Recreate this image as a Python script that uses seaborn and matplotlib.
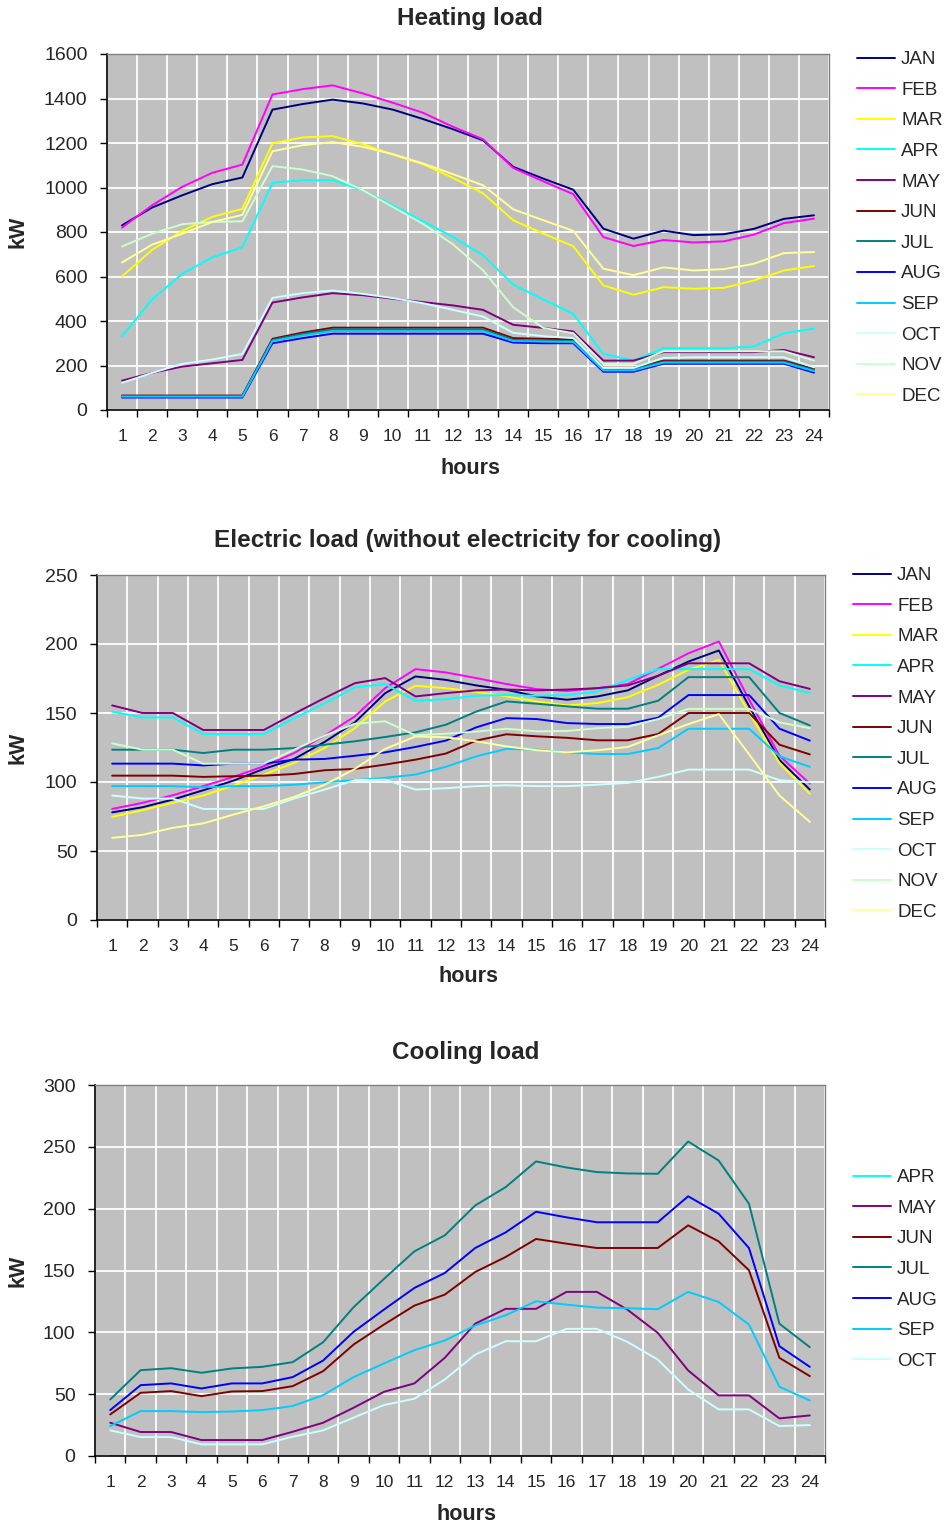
import numpy as np
import pandas as pd
import matplotlib
matplotlib.use("Agg")
import matplotlib.pyplot as plt
import seaborn as sns

hours = list(range(1, 25))
hour_labels = [str(h) for h in hours]
months = ["JAN", "FEB", "MAR", "APR", "MAY", "JUN", "JUL", "AUG", "SEP", "OCT", "NOV", "DEC"]
cooling_months = ["APR", "MAY", "JUN", "JUL", "AUG", "SEP", "OCT"]

month_colors = {
    "JAN": "#000080", "FEB": "#FF00FF", "MAR": "#FFFF00", "APR": "#00FFFF",
    "MAY": "#800080", "JUN": "#800000", "JUL": "#008080", "AUG": "#0000FF",
    "SEP": "#00CCFF", "OCT": "#CCFFFF", "NOV": "#CCFFCC", "DEC": "#FFFF99",
}

# Heating load, kW per hour
heat_jan = [830, 910, 965, 1015, 1045, 1350, 1375, 1395, 1378, 1350, 1308, 1262, 1212, 1093, 1040, 990, 815, 770, 806, 786, 790, 814, 859, 875]
heat_feb = [820, 920, 1003, 1066, 1103, 1418, 1442, 1459, 1423, 1381, 1336, 1273, 1217, 1088, 1028, 970, 777, 737, 764, 753, 758, 788, 840, 860]
heat_mar = [600, 720, 805, 868, 904, 1198, 1225, 1231, 1195, 1148, 1105, 1043, 974, 853, 793, 736, 560, 518, 552, 545, 549, 582, 627, 647]
heat_apr = [332, 497, 612, 686, 732, 1021, 1033, 1033, 988, 920, 848, 778, 695, 564, 497, 432, 252, 222, 278, 278, 278, 285, 345, 366]
heat_may = [132, 167, 195, 210, 225, 483, 506, 525, 516, 500, 485, 470, 450, 383, 369, 353, 222, 222, 260, 260, 260, 260, 270, 237]
heat_jun = [65, 65, 65, 65, 65, 320, 348, 370, 370, 370, 370, 370, 370, 323, 320, 318, 190, 190, 222, 222, 222, 222, 222, 185]
heat_jul = [62, 62, 62, 62, 62, 315, 342, 362, 362, 362, 362, 362, 362, 315, 312, 310, 183, 183, 217, 217, 217, 217, 217, 180]
heat_aug = [56, 56, 56, 56, 56, 300, 323, 343, 343, 343, 343, 343, 343, 303, 300, 300, 172, 172, 208, 208, 208, 208, 208, 168]
heat_sep = [60, 60, 60, 60, 60, 310, 335, 355, 355, 355, 355, 355, 355, 310, 308, 306, 178, 178, 213, 213, 213, 213, 213, 175]
heat_oct = [122, 167, 207, 227, 252, 504, 525, 537, 522, 503, 480, 450, 420, 347, 332, 323, 189, 189, 234, 237, 237, 237, 237, 192]
heat_nov = [735, 792, 835, 845, 848, 1096, 1081, 1051, 988, 913, 837, 744, 628, 462, 369, 345, 207, 207, 264, 264, 264, 264, 264, 222]
heat_dec = [663, 743, 792, 845, 877, 1163, 1190, 1204, 1183, 1150, 1108, 1060, 1010, 902, 853, 805, 635, 606, 641, 627, 633, 657, 705, 710]

# Electric load without cooling electricity, kW per hour
elec_jan = [78, 81.7, 87.3, 94, 101, 109.5, 116.7, 129, 143.2, 164.4, 176.5, 174, 170, 166.8, 162, 159.6, 162, 166.4, 177, 187.3, 195.3, 154.8, 116, 94.5]
elec_feb = [80.5, 84.9, 90.4, 97, 103.7, 111.4, 121, 133.6, 147.5, 168, 181.8, 179.4, 175.3, 171, 167.3, 166, 168, 171, 182, 193.3, 201.8, 159.6, 119, 98.8]
elec_mar = [74.7, 79.6, 84.9, 90.2, 97.4, 105.4, 113.8, 124.6, 139, 158.4, 169.7, 168, 165.3, 162, 158.4, 155.5, 157.2, 161.5, 170.4, 181.3, 188.5, 150, 113.8, 91.4]
elec_apr = [151, 146.8, 146.8, 134.8, 134.8, 134.8, 146.3, 157, 168.5, 171, 158.9, 160, 162.5, 163, 162.5, 163, 165.6, 174, 181.8, 181.8, 181.8, 181.8, 170, 164.4]
elec_may = [155.5, 150, 150, 137.7, 137.7, 137.7, 149.5, 160.8, 171.6, 175.3, 162, 164.4, 166.4, 167, 166.4, 167, 168, 170, 177, 186, 186, 186, 173, 167.5]
elec_jun = [104.6, 104.6, 104.6, 103.7, 104.2, 104.6, 105.8, 108.5, 109.5, 112.6, 116.2, 120.6, 130, 134.6, 133.1, 132, 130.2, 130.2, 134.8, 150, 150, 150, 127, 120]
elec_jul = [123.4, 123.4, 123.4, 121, 123.4, 123.4, 124.6, 127, 129.5, 132.6, 136, 141.5, 151, 158.4, 156.7, 154.8, 153.1, 153.1, 158.9, 176, 176, 176, 150, 141]
elec_aug = [113.3, 113.3, 113.3, 112, 113.3, 113.3, 116.2, 116.7, 119, 121.5, 125.4, 130, 139.6, 146.3, 145.6, 142.7, 142, 142, 146.6, 163, 163, 163, 138.6, 130]
elec_sep = [97, 97, 97, 96.2, 97, 97, 98, 99.8, 101.3, 103, 105.4, 111, 118.6, 124, 123.4, 121.5, 120.3, 120.3, 124.6, 138.6, 138.6, 138.6, 118.6, 111]
elec_oct = [90.2, 88, 88, 80.5, 80.5, 80.5, 88, 94.5, 101.3, 101.7, 94.5, 95.5, 97, 97.6, 97, 97, 98.1, 99.3, 103.7, 109, 109, 109, 101.3, 99.8]
elec_nov = [128, 123.4, 123.4, 113.3, 113.3, 113.3, 123.4, 133.6, 142.2, 144, 133.8, 135, 136.5, 138.6, 136.7, 137, 139, 140, 145.6, 153, 153, 153, 143.2, 139]
elec_dec = [59.5, 61.7, 66.8, 70, 76.4, 82.4, 89.2, 98, 109.5, 124, 133, 132.4, 129.5, 125.8, 123, 121.5, 123, 125.4, 133.8, 142, 149.2, 120, 90.2, 71.1]

# Cooling load, kW per hour
cool_apr = [0, 0, 0, 0, 0, 0, 0, 0, 0, 0, 0, 0, 0, 0, 0, 0, 0, 0, 0, 0, 0, 0, 0, 0]
cool_may = [26.9, 19.4, 19.4, 12.9, 12.9, 12.9, 19.6, 26.9, 39, 51.9, 58.7, 79.4, 107, 119, 119, 132.7, 132.7, 118.4, 99.6, 69.2, 49, 49, 30.4, 32.8]
cool_jun = [33.6, 51.1, 52.5, 48.4, 52.2, 52.5, 56.5, 68.6, 90.1, 106.3, 121.6, 130.5, 148.8, 160.9, 175.5, 171.7, 168.2, 168.2, 168.2, 186.5, 173.6, 150.2, 79.4, 64.6]
cool_jul = [45.7, 69.4, 71, 67.3, 70.8, 72.1, 75.9, 92, 120.3, 143.2, 165.5, 178.4, 202.6, 217.4, 238.2, 233.3, 229.6, 228.5, 228.2, 254.3, 239, 204, 107, 88]
cool_aug = [37.1, 57.3, 58.7, 54.6, 58.7, 58.7, 63.8, 77.2, 100.4, 118.4, 135.9, 148, 168.2, 180.8, 197.5, 193, 189, 189, 189, 210, 196, 168.2, 88.8, 72.1]
cool_sep = [24.2, 36.3, 36.3, 35.5, 36, 37.1, 40.4, 49.2, 63.8, 74.8, 85.6, 93.4, 105.5, 113.8, 125.1, 122.4, 120, 119.5, 118.7, 132.7, 124.6, 106.3, 56, 44.9]
cool_oct = [20.7, 15.3, 15.3, 9.4, 9.4, 9.4, 15.6, 20.7, 31, 41.2, 46.3, 61.9, 82, 92.8, 92.8, 102.8, 102.8, 92.3, 78, 53.8, 37.7, 37.7, 24.2, 25]

heating = dict(zip(months, [heat_jan, heat_feb, heat_mar, heat_apr, heat_may, heat_jun,
                            heat_jul, heat_aug, heat_sep, heat_oct, heat_nov, heat_dec]))
electric = dict(zip(months, [elec_jan, elec_feb, elec_mar, elec_apr, elec_may, elec_jun,
                             elec_jul, elec_aug, elec_sep, elec_oct, elec_nov, elec_dec]))
cooling = dict(zip(cooling_months, [cool_apr, cool_may, cool_jun, cool_jul, cool_aug, cool_sep, cool_oct]))

sns.set_theme(style="darkgrid", rc={
    "axes.facecolor": "#C0C0C0",
    "grid.color": "white",
    "grid.linewidth": 1.3,
    "figure.facecolor": "white",
})
plt.rcParams["font.family"] = ["Liberation Sans", "DejaVu Sans"]

FIG_W, FIG_H = 947, 1526
fig = plt.figure(figsize=(FIG_W / 100, FIG_H / 100), dpi=100)

XTICK_PT = 12.5
YTICK_PT = 14
LEGEND_PT = 13.5
LABEL_PT = 15.5
TITLE_PT = 17.5


def px_axes(left, top, right, bottom):
    return fig.add_axes([left / FIG_W, 1 - bottom / FIG_H, (right - left) / FIG_W, (bottom - top) / FIG_H])


def draw_panel(ax, series, order, ymax, ystep, title, title_xy, xlabel_y, ylabel_x, legend_xy):
    df = pd.DataFrame([(m, h, v) for m in order for h, v in zip(hours, series[m])],
                      columns=["month", "hour", "kW"])
    sns.lineplot(data=df, x="hour", y="kW", hue="month", hue_order=order,
                 palette=month_colors, linewidth=1.4, ax=ax, legend=True)

    ax.set_xlim(0.5, 24.5)
    ax.set_ylim(0, ymax)
    ax.set_xticks(np.arange(0.5, 25, 1))
    ax.set_xticklabels([])
    ax.set_xticks(hours, minor=True)
    ax.set_xticklabels(hour_labels, minor=True)
    ax.set_yticks(np.arange(0, ymax + 1, ystep))
    ax.grid(True, which="major", axis="both", color="white", linewidth=1.3)
    ax.grid(False, which="minor")
    ax.tick_params(axis="x", which="major", direction="out", length=5, width=1, color="black",
                   bottom=True)
    ax.tick_params(axis="x", which="minor", length=0, pad=14, labelsize=XTICK_PT)
    ax.tick_params(axis="y", which="major", direction="out", length=5, width=1, color="black",
                   left=True, pad=9, labelsize=YTICK_PT)
    for side in ("left", "bottom"):
        ax.spines[side].set_visible(True)
        ax.spines[side].set_color("black")
        ax.spines[side].set_linewidth(1.2)
    for side in ("top", "right"):
        ax.spines[side].set_visible(True)
        ax.spines[side].set_color("#808080")
        ax.spines[side].set_linewidth(1.0)
    ax.set_xlabel("")
    ax.set_ylabel("")

    fig.text(title_xy[0] / FIG_W, 1 - title_xy[1] / FIG_H, title, ha="center", va="center",
             fontsize=TITLE_PT, fontweight="bold")
    fig.text(title_xy[0] / FIG_W, 1 - xlabel_y / FIG_H, "hours", ha="center", va="center",
             fontsize=LABEL_PT, fontweight="bold")
    ax_box = ax.get_position()
    fig.text(ylabel_x / FIG_W, (ax_box.y0 + ax_box.y1) / 2, "kW", ha="center", va="center",
             rotation=90, fontsize=LABEL_PT, fontweight="bold")

    handles, labels = ax.get_legend_handles_labels()
    ax.get_legend().remove()
    leg = fig.legend(handles, labels, loc="upper left",
                     bbox_to_anchor=(legend_xy[0] / FIG_W, 1 - legend_xy[1] / FIG_H),
                     frameon=False, fontsize=LEGEND_PT, handlelength=2.0, handletextpad=0.35,
                     labelspacing=0.72, borderpad=0, borderaxespad=0)
    for line in leg.get_lines():
        line.set_linewidth(1.4)


ax_heat = px_axes(107, 54, 829, 410)
draw_panel(ax_heat, heating, months, 1600, 200, "Heating load", (470, 18), 468, 18, (857, 51))

ax_elec = px_axes(97, 575, 825, 920)
draw_panel(ax_elec, electric, months, 250, 50, "Electric load (without electricity for cooling)",
           (468, 541), 977, 18, (853, 567))

ax_cool = px_axes(95, 1085, 825, 1456)
draw_panel(ax_cool, cooling, cooling_months, 300, 50, "Cooling load", (466, 1052), 1514, 18,
           (853, 1169))

fig.savefig("out.png", dpi=100, facecolor="white")
